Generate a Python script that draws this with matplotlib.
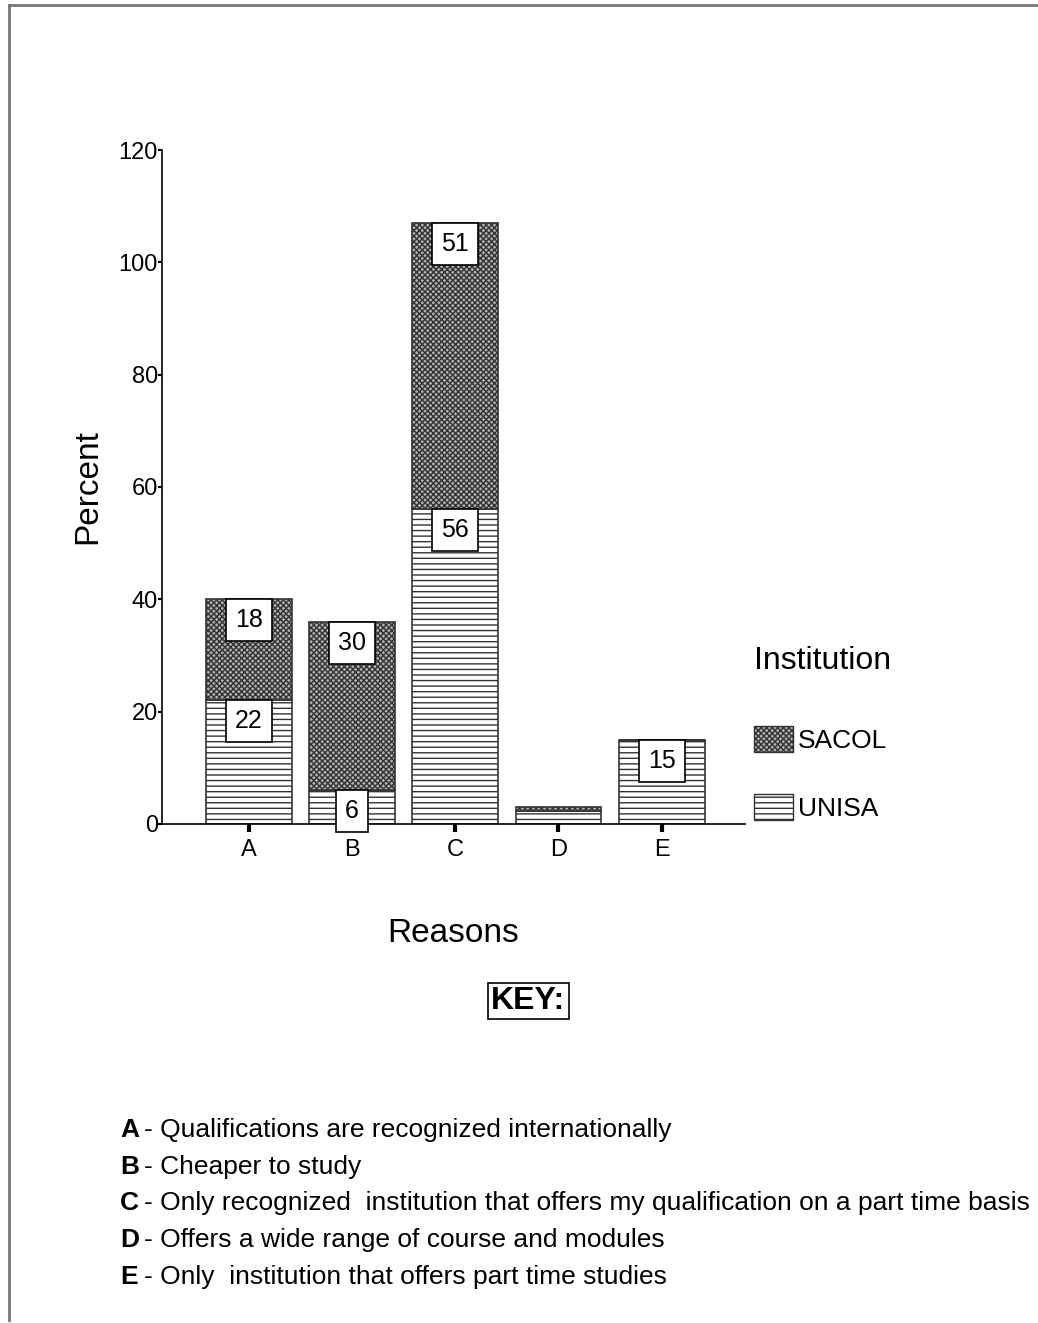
import matplotlib.pyplot as plt
from matplotlib.lines import Line2D
from matplotlib.patches import Patch

plt.rcParams['font.family'] = ['Liberation Sans', 'DejaVu Sans']
plt.rcParams['hatch.linewidth'] = 1.0

reasons = ["A", "B", "C", "D", "E"]
unisa = [22, 6, 56, 2.3, 15]
sacol = [18, 30, 51, 0.7, 0]
unisa_labels = ["22", "6", "56", "", "15"]
sacol_labels = ["18", "30", "51", "", ""]
key_lines = [
    ("A", "Qualifications are recognized internationally"),
    ("B", "Cheaper to study"),
    ("C", "Only recognized  institution that offers my qualification on a part time basis"),
    ("D", "Offers a wide range of course and modules"),
    ("E", "Only  institution that offers part time studies"),
]

fig = plt.figure(figsize=(10.38, 13.23), dpi=100)
ax = fig.add_axes([0.156, 0.3772, 0.562, 0.5094])

x = list(range(len(reasons)))
width = 0.83
ax.bar(x, unisa, width, color="white", edgecolor="#333333", hatch="---", linewidth=1.2)
ax.bar(x, sacol, width, bottom=unisa, color="#b0b0b0", edgecolor="#333333",
       hatch="xxxxxx", linewidth=1.2)

box = dict(boxstyle="square,pad=0.36", facecolor="white", edgecolor="black", linewidth=1.2)
for i in x:
    if unisa_labels[i]:
        ax.annotate(unisa_labels[i], (i, unisa[i]), xytext=(0, -9), textcoords="offset pixels",
                    ha="center", va="top", fontsize=18, bbox=box)
    if sacol_labels[i]:
        ax.annotate(sacol_labels[i], (i, unisa[i] + sacol[i]), xytext=(0, -9),
                    textcoords="offset pixels", ha="center", va="top", fontsize=18, bbox=box)

ax.set_xlim(-0.84, 4.81)
ax.set_ylim(0, 120)
ax.set_yticks(range(0, 121, 20))
ax.set_xticks(x)
ax.set_xticklabels(reasons)
ax.spines["top"].set_visible(False)
ax.spines["right"].set_visible(False)
ax.spines["left"].set_linewidth(1.2)
ax.spines["bottom"].set_linewidth(1.2)
ax.tick_params(axis="y", length=3, width=1.5, pad=0, labelsize=17)
ax.tick_params(axis="x", length=6, width=3, pad=5, labelsize=17)
ax.set_xlabel("Reasons", fontsize=24, labelpad=41)
ax.set_ylabel("Percent", fontsize=24, labelpad=11)

handles = [Patch(facecolor="#b0b0b0", edgecolor="#333333", hatch="xxxxxx"),
           Patch(facecolor="white", edgecolor="#333333", hatch="---")]
leg = fig.legend(handles, ["SACOL", "UNISA"], loc="upper left", bbox_to_anchor=(0.7165, 0.520),
                 frameon=False, fontsize=19, title="Institution", title_fontsize=23,
                 handlelength=1.45, handleheight=1.15, handletextpad=0.2, labelspacing=1.55,
                 alignment="left", borderaxespad=0)
leg._legend_box.sep = 36

fig.text(0.509, 1 - 1001 / 1323, "KEY:", fontsize=23, fontweight="bold", ha="center", va="center",
         bbox=dict(boxstyle="square,pad=0.1", facecolor="white", edgecolor="black", linewidth=1.2))

y0 = 1130
for k, (letter, desc) in enumerate(key_lines):
    yy = 1 - (y0 + k * 36.7) / 1323
    fig.text(120 / 1038, yy, letter, fontsize=19, fontweight="bold", va="center")
    fig.text(144 / 1038, yy, "- " + desc, fontsize=19, va="center")

fig.add_artist(Line2D([9 / 1038, 9 / 1038], [1 - 5 / 1323, 1 - 1320 / 1323], color="#777777", lw=2))
fig.add_artist(Line2D([9 / 1038, 1], [1 - 5 / 1323, 1 - 5 / 1323], color="#777777", lw=2))

fig.savefig("out.png", dpi=100)
